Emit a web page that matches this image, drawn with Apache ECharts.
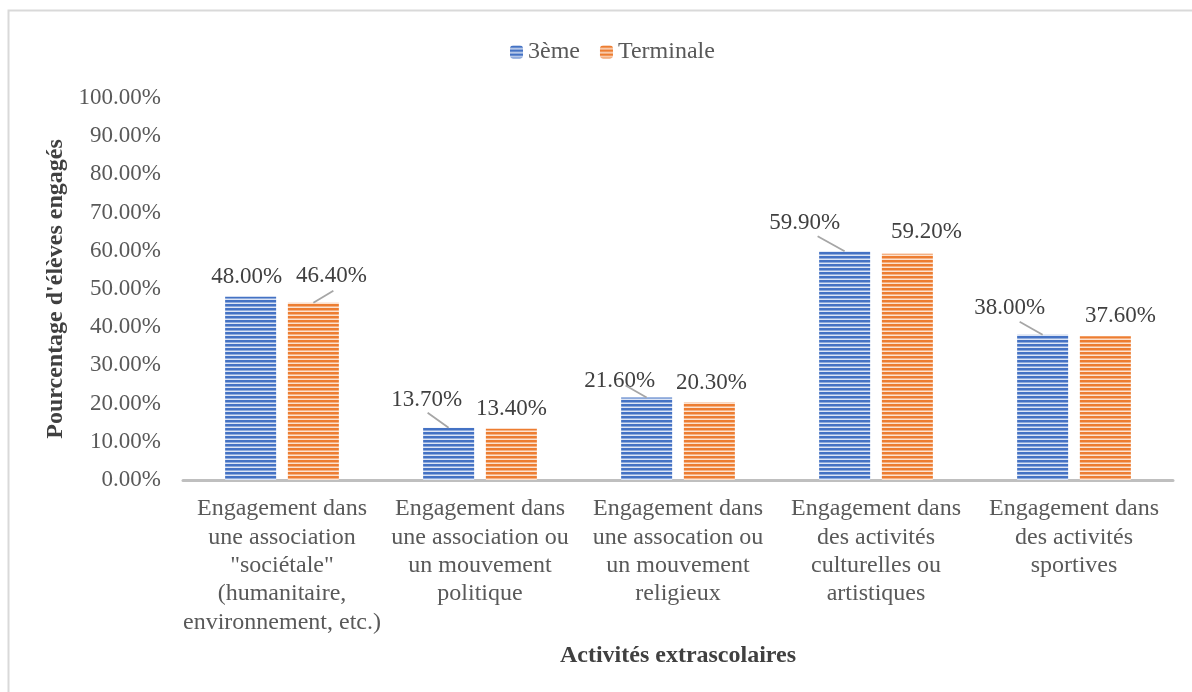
<!DOCTYPE html>
<html>
<head>
<meta charset="utf-8">
<script src="https://cdn.jsdelivr.net/npm/echarts@6/dist/echarts.min.js"></script>
<style>
html,body{margin:0;padding:0;background:#fff;}
#c{width:1192px;height:692px;}
</style>
</head>
<body>
<div id="c"></div>
<script>
var categories = [
  'Engagement dans\nune association\n"sociétale"\n(humanitaire,\nenvironnement, etc.)',
  'Engagement dans\nune association ou\nun mouvement\npolitique',
  'Engagement dans\nune assocation ou\nun mouvement\nreligieux',
  'Engagement dans\ndes activités\nculturelles ou\nartistiques',
  'Engagement dans\ndes activités\nsportives'
];
var seriesNames = ['3ème', 'Terminale'];
var troisieme = [48.0, 13.7, 21.6, 59.9, 38.0];
var terminale = [46.4, 13.4, 20.3, 59.2, 37.6];
var yTicks = [0, 10, 20, 30, 40, 50, 60, 70, 80, 90, 100];

// label displacement & leader lines (styling only)
var offs3 = [[-4, 0], [-22, -8], [-27, 3], [-40, -9], [-33, -7]];
var offsT = [[18, -7], [0, 0], [2, 0], [19, -2], [15, -1]];
// leader: [seriesIndex, categoryIndex, endDx, endDy] relative to bar top centre
var leaders = [[1, 0, 20, -12], [0, 1, -21, -15], [0, 2, -21, -12], [0, 3, -27, -15], [0, 4, -23, -13]];

var BAR_W = 51, BAR_GAP = 0.23;
var barOffset = (BAR_W + BAR_W * BAR_GAP) / 2;

function stripe(color, light) {
  var c = document.createElement('canvas');
  c.width = 4; c.height = 4;
  var g = c.getContext('2d');
  g.fillStyle = color; g.fillRect(0, 0, 4, 4);
  g.fillStyle = 'rgba(255,255,255,0.4)'; g.fillRect(0, 2, 4, 1);
  g.fillStyle = light; g.fillRect(0, 3, 4, 1);
  return { image: c, repeat: 'repeat' };
}
var FONT = 'Liberation Serif';
var chart = echarts.init(document.getElementById('c'));

function makeSeries(name, vals, col, light, offs) {
  return {
    name: name,
    type: 'bar',
    barWidth: BAR_W,
    barGap: (BAR_GAP * 100) + '%',
    itemStyle: { color: stripe(col, light) },
    data: vals,
    label: {
      show: true, position: 'top', distance: 8,
      fontFamily: FONT, fontSize: 23, color: '#404040',
      formatter: function (p) { return p.value.toFixed(2) + '%'; }
    },
    labelLayout: function (p) {
      var o = offs[p.dataIndex];
      return { dx: o[0], dy: o[1] };
    }
  };
}
var allVals = [troisieme, terminale];

chart.setOption({
  animation: false,
  graphic: [{
    type: 'rect', shape: { x: 8.5, y: 10.5, width: 1250, height: 750 },
    style: { fill: 'none', stroke: '#d9d9d9', lineWidth: 2 }, silent: true
  }],
  legend: {
    top: 35, left: 505, itemWidth: 13, itemHeight: 13, itemGap: 20,
    textStyle: { fontFamily: FONT, fontSize: 24, color: '#595959' },
    data: seriesNames
  },
  grid: { left: 183, right: 19, top: 98, bottom: 212, containLabel: false },
  xAxis: {
    type: 'category', data: categories,
    name: 'Activités extrascolaires', nameLocation: 'middle', nameGap: 164,
    nameTextStyle: { fontFamily: FONT, fontSize: 24, fontWeight: 'bold', color: '#404040' },
    axisLine: { lineStyle: { color: '#bfbfbf', width: 3 } },
    axisTick: { show: false },
    axisLabel: { interval: 0, margin: 15, fontFamily: FONT, fontSize: 24, lineHeight: 28.3, color: '#595959' }
  },
  yAxis: {
    type: 'value', min: yTicks[0], max: yTicks[yTicks.length - 1], interval: 10,
    name: "Pourcentage d'élèves engagés", nameLocation: 'middle', nameGap: 113,
    nameTextStyle: { fontFamily: FONT, fontSize: 24, fontWeight: 'bold', color: '#404040' },
    axisLine: { show: false }, axisTick: { show: false }, splitLine: { show: false },
    axisLabel: { margin: 22, fontFamily: FONT, fontSize: 23, color: '#595959',
      formatter: function (v) { return v.toFixed(2) + '%'; } }
  },
  series: [
    makeSeries(seriesNames[0], troisieme, '#4472C4', '#dde5f5', offs3),
    makeSeries(seriesNames[1], terminale, '#ED7D31', '#fce2cf', offsT),
    {
      type: 'custom', silent: true, z: 5,
      data: leaders.map(function (l, k) { return [l[1], allVals[l[0]][l[1]], k]; }),
      renderItem: function (params, api) {
        var k = api.value(2);
        var l = leaders[k];
        var p = api.coord([api.value(0), api.value(1)]);
        var x0 = p[0] + (l[0] === 0 ? -barOffset : barOffset);
        var y0 = p[1];
        return {
          type: 'line',
          shape: { x1: x0, y1: y0, x2: x0 + l[2], y2: y0 + l[3] },
          style: { stroke: '#a6a6a6', lineWidth: 1.8 }
        };
      }
    }
  ]
});
</script>
</body>
</html>
